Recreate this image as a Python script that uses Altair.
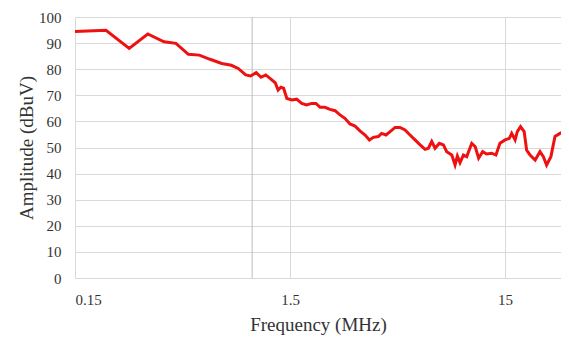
import altair as alt
import pandas as pd

freq_mhz = [0.15, 0.209, 0.268, 0.327, 0.389, 0.442, 0.505, 0.568, 0.637, 0.722,
            0.80, 0.861, 0.933, 0.984, 1.044, 1.10, 1.157, 1.21, 1.28, 1.32,
            1.36, 1.40, 1.45, 1.53, 1.61, 1.70, 1.79, 1.89, 1.98, 2.07,
            2.18, 2.30, 2.43, 2.56, 2.70, 2.85, 3.01, 3.17, 3.35, 3.51,
            3.66, 3.86, 4.00, 4.19, 4.38, 4.62, 4.87, 5.14, 5.42, 5.72,
            6.04, 6.37, 6.60, 6.84, 7.09, 7.42, 7.75, 8.03, 8.48, 8.78,
            9.00, 9.26, 9.60, 9.95, 10.5, 10.9, 11.3, 11.8, 12.3, 13.0,
            13.6, 14.2, 15.0, 15.7, 16.1, 16.7, 17.1, 17.7, 18.4, 18.9,
            19.6, 20.7, 21.8, 22.6, 23.4, 24.5, 25.6, 27.0, 28.0, 28.8, 30.0]
amp_dbuv = [94.4, 94.9, 88.0, 93.5, 90.5, 89.9, 85.7, 85.4, 83.8, 82.2,
            81.5, 80.3, 77.8, 77.4, 78.7, 76.9, 77.8, 76.5, 74.8, 72.0,
            73.1, 72.7, 68.8, 68.2, 68.5, 66.9, 66.3, 66.9, 66.9, 65.4,
            65.4, 64.6, 64.1, 62.5, 61.2, 59.0, 58.2, 56.4, 54.8, 52.9,
            53.9, 54.2, 55.4, 54.8, 56.1, 57.7, 57.7, 56.7, 54.8, 52.9,
            51.0, 49.3, 49.7, 52.3, 49.7, 51.6, 51.0, 48.4, 47.1, 43.3,
            46.7, 44.2, 47.1, 46.5, 51.6, 50.3, 45.9, 48.4, 47.5, 47.8,
            47.1, 51.6, 52.9, 53.5, 55.4, 52.9, 56.1, 58.0, 56.1, 49.0,
            47.1, 45.2, 48.4, 46.5, 43.3, 46.5, 54.2, 55.4, 56.1, 53.5, 50.3]
x_ticks = [0.15, 1.5, 15]
y_ticks = [0, 10, 20, 30, 40, 50, 60, 70, 80, 90, 100]
marker_mhz = [1.0]

df = pd.DataFrame({"f": freq_mhz, "a": amp_dbuv})
mk = pd.DataFrame({"f": marker_mhz})

FONT = "Liberation Serif"
xscale = alt.Scale(type="log", domain=[0.15, 27.3], nice=False)
yscale = alt.Scale(domain=[0, 100], nice=False)

line = alt.Chart(df).mark_line(color="#ee1111", strokeWidth=3, clip=True).encode(
    x=alt.X("f:Q", scale=xscale,
            axis=alt.Axis(values=x_ticks, format="~g", title="Frequency (MHz)",
                          grid=True, gridColor="#d9d9d9", domain=True,
                          domainColor="#d9d9d9", ticks=False, labelPadding=14,
                          titlePadding=8, labelOverlap=False,
                          labelFont=FONT, titleFont=FONT, labelFontSize=15,
                          titleFontSize=19)),
    y=alt.Y("a:Q", scale=yscale,
            axis=alt.Axis(values=y_ticks, title="Amplitude (dBuV)", domain=False,
                          ticks=False, grid=True, gridColor="#d9d9d9",
                          labelPadding=14, titlePadding=2,
                          labelFont=FONT, titleFont=FONT, labelFontSize=15,
                          titleFontSize=19)),
)

rule = alt.Chart(mk).mark_rule(color="#bdbdbd", strokeWidth=1).encode(
    x=alt.X("f:Q", scale=xscale)
)

chart = alt.layer(rule, line).properties(
    width=486, height=261,
    autosize=alt.AutoSizeParams(type="none"),
    padding={"left": 67, "top": 9, "right": 0, "bottom": 60},
).configure(font=FONT).configure_view(stroke=None).configure_axis(
    labelFont=FONT, titleFont=FONT,
    labelColor="#333333", titleColor="#333333", titleFontWeight="normal",
    gridWidth=1,
)

chart.save("out.html", embed_options={"renderer": "svg", "actions": False})
